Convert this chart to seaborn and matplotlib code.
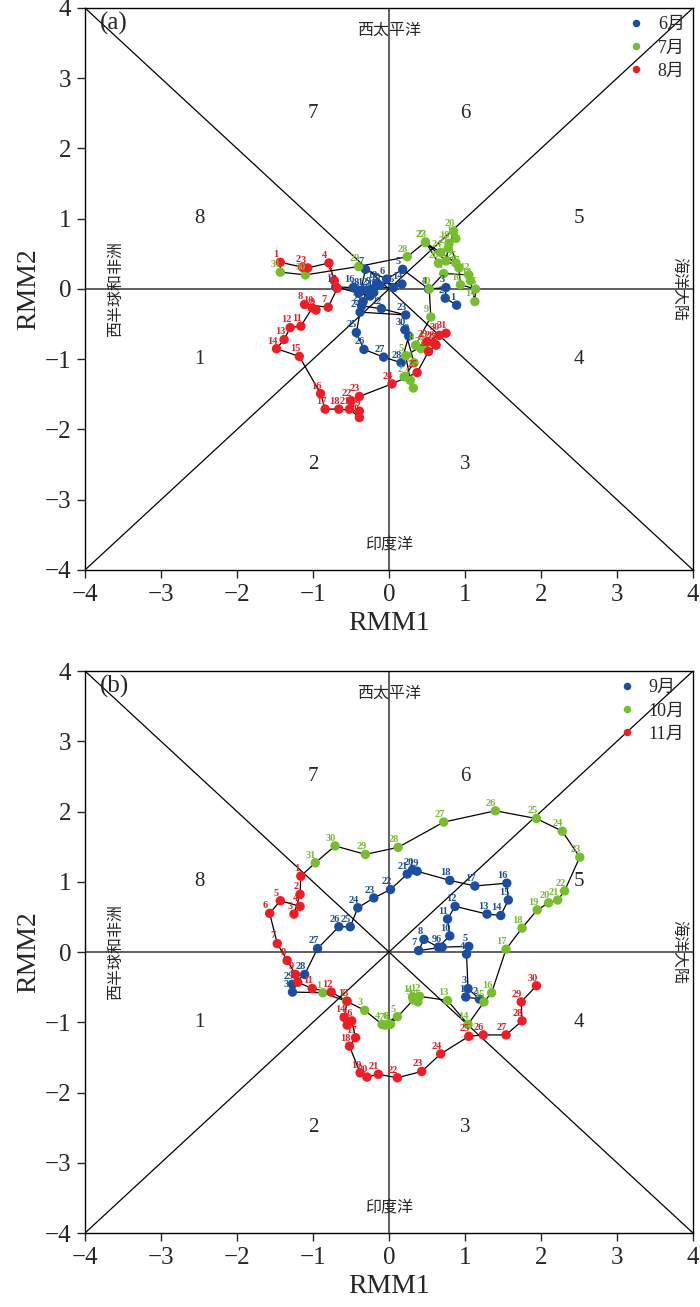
import numpy as np
import pandas as pd
import matplotlib
matplotlib.use("Agg")
import matplotlib.pyplot as plt
import seaborn as sns

# ---------------- data (RMM1, RMM2 per day) ----------------
jun_x = [0.89, 0.74, 0.75, 0.52, 0.18, -0.03, -0.31, -0.37, -0.22, -0.12, -0.34, -0.29, -0.16, 0.17, 0.06,
         -0.47, -0.70, -0.40, -0.25, -0.20, -0.36, -0.10, 0.22, -0.38, -0.43, -0.33, -0.07, 0.16, 0.26, 0.21]
jun_y = [-0.23, -0.13, 0.02, 0.00, 0.28, 0.14, 0.28, -0.02, 0.00, 0.05, -0.18, -0.02, 0.08, 0.07, 0.02,
         0.02, 0.03, -0.06, -0.10, -0.05, -0.24, -0.28, -0.37, -0.33, -0.62, -0.86, -0.97, -1.05, -0.67, -0.58]
jul_x = [0.33, 0.20, 0.32, 0.28, 0.22, 0.48, 0.42, 0.35, 0.55, 0.53, 0.72, 1.05, 1.07, 1.13, 1.14, 0.94,
         0.92, 0.79, 0.88, 0.85, 0.78, 0.75, 0.48, 0.68, 0.88, 0.65, 0.48, 0.24, -0.40, -1.10, -1.43]
jul_y = [-1.05, -1.25, -1.41, -1.30, -0.95, -0.78, -0.85, -0.80, -0.40, 0.00, 0.22, 0.20, 0.12, -0.18, 0.00, 0.06,
         0.30, 0.65, 0.72, 0.82, 0.58, 0.40, 0.66, 0.52, 0.37, 0.37, 0.67, 0.46, 0.32, 0.20, 0.24]
aug_x = [-1.43, -1.14, -1.07, -0.79, -0.72, -0.68, -0.80, -1.11, -0.96, -1.01, -1.16, -1.30, -1.38, -1.48, -1.18,
         -0.90, -0.84, -0.66, -0.39, -0.39, -0.52, -0.50, -0.39, 0.04, 0.37, 0.52, 0.62, 0.59, 0.50, 0.66, 0.75]
aug_y = [0.38, 0.31, 0.30, 0.37, 0.12, 0.01, -0.26, -0.22, -0.30, -0.27, -0.53, -0.55, -0.72, -0.85, -0.96,
         -1.49, -1.71, -1.71, -1.74, -1.83, -1.71, -1.59, -1.53, -1.35, -1.19, -0.89, -0.80, -0.77, -0.75, -0.66, -0.63]

sep_x = [1.01, 1.19, 1.04, 1.02, 1.05, 0.70, 0.39, 0.46, 0.65, 0.80, 0.77, 0.87, 1.29, 1.47, 1.57,
         1.55, 1.13, 0.80, 0.37, 0.31, 0.24, 0.02, -0.20, -0.41, -0.51, -0.66, -0.94, -1.11, -1.27, -1.27]
sep_y = [-0.64, -0.67, -0.52, -0.03, 0.08, 0.07, 0.02, 0.18, 0.07, 0.23, 0.47, 0.65, 0.54, 0.52, 0.74,
         0.98, 0.94, 1.02, 1.15, 1.17, 1.11, 0.89, 0.77, 0.63, 0.36, 0.36, 0.05, -0.32, -0.46, -0.57]
oct_x = [-0.87, -0.56, -0.32, -0.09, 0.11, 0.00, -0.05, 0.02, 0.32, 0.38, 0.31, 0.40, 0.77, 1.04, 1.25, 1.35,
         1.54, 1.75, 1.95, 2.10, 2.22, 2.31, 2.51, 2.28, 1.94, 1.40, 0.72, 0.12, -0.31, -0.71, -0.97]
oct_y = [-0.58, -0.70, -0.83, -1.03, -0.92, -1.02, -1.04, -1.03, -0.68, -0.71, -0.64, -0.63, -0.69, -1.03, -0.71, -0.58,
         0.04, 0.34, 0.60, 0.70, 0.74, 0.87, 1.35, 1.72, 1.90, 2.01, 1.85, 1.49, 1.39, 1.51, 1.27]
nov_x = [-1.16, -1.17, -1.25, -1.17, -1.43, -1.57, -1.47, -1.34, -1.23, -1.20, -1.01, -0.76, -0.55, -0.59, -0.55,
         -0.49, -0.44, -0.52, -0.38, -0.29, -0.14, 0.11, 0.43, 0.68, 1.05, 1.24, 1.54, 1.75, 1.74, 1.94]
nov_y = [1.08, 0.82, 0.54, 0.65, 0.73, 0.55, 0.12, -0.12, -0.32, -0.43, -0.52, -0.57, -0.70, -0.93, -1.04,
         -0.98, -1.22, -1.34, -1.72, -1.78, -1.74, -1.79, -1.70, -1.45, -1.20, -1.18, -1.18, -0.98, -0.71, -0.48]

months_a = ["6月", "7月", "8月"]
months_b = ["9月", "10月", "11月"]
month_colors = ["#1b4ea0", "#76bd2f", "#ee1c24"]
phase_labels = ["1", "2", "3", "4", "5", "6", "7", "8"]
ticks = [-4, -3, -2, -1, 0, 1, 2, 3, 4]

# ---------------- style ----------------
sns.set_style("white")
plt.rcParams["font.family"] = ["Liberation Serif", "Noto Sans CJK SC", "DejaVu Sans"]
plt.rcParams["axes.unicode_minus"] = True


def build(xs, ys, names):
    frames = []
    for xv, yv, nm in zip(xs, ys, names):
        frames.append(pd.DataFrame({"RMM1": xv, "RMM2": yv, "month": nm,
                                    "day": np.arange(1, len(xv) + 1)}))
    df = pd.concat(frames, ignore_index=True)
    return df


def draw(ax, df, names, tag):
    ax.set_xlim(-4, 4)
    ax.set_ylim(-4, 4)
    # phase-space guide lines
    ax.axhline(0, color="#444444", lw=1.2, zorder=1)
    ax.axvline(0, color="#444444", lw=1.2, zorder=1)
    ax.plot([-4, 4], [-4, 4], color="black", lw=0.9, zorder=1)
    ax.plot([-4, 4], [4, -4], color="black", lw=0.9, zorder=1)

    pal = dict(zip(names, month_colors))
    sns.lineplot(data=df, x="RMM1", y="RMM2", sort=False, estimator=None,
                 color="black", lw=0.9, ax=ax, zorder=2)
    sns.scatterplot(data=df, x="RMM1", y="RMM2", hue="month", hue_order=names,
                    palette=pal, s=46, linewidth=0, ax=ax, zorder=3, legend=True)
    for _, r in df.iterrows():
        ax.annotate(str(int(r["day"])), (r["RMM1"], r["RMM2"]), xytext=(-3, 5.5),
                    textcoords="offset points", ha="center", va="center",
                    fontsize=7.5, fontweight="bold", color=pal[r["month"]],
                    family=["Liberation Serif"], zorder=4)

    # phase numbers
    pos = [(-2.5, -1), (-1, -2.5), (1, -2.5), (2.5, -1), (2.5, 1), (1, 2.5), (-1, 2.5), (-2.5, 1)]
    for (px, py), lab in zip(pos, phase_labels):
        ax.text(px, py, lab, ha="center", va="center", fontsize=15)

    cjk = ["Noto Sans CJK SC"]
    ax.text(0, 3.68, "西太平洋", ha="center", va="center", fontsize=11.5, family=cjk)
    ax.text(0, -3.65, "印度洋", ha="center", va="center", fontsize=11.5, family=cjk)
    ax.text(-3.6, 0, "西半球和非洲", ha="center", va="center", rotation=90, fontsize=11.5, family=cjk)
    ax.text(3.82, 0, "海洋大陆", ha="center", va="center", rotation=270, fontsize=11.5, family=cjk)
    ax.text(-3.8, 3.78, tag, ha="left", va="center", fontsize=18)

    ax.set_xticks(ticks)
    ax.set_yticks(ticks)
    ax.tick_params(axis="both", which="both", direction="out", length=6, width=1,
                   labelsize=18, bottom=True, left=True, top=False, right=False, pad=4)
    ax.set_xlabel("RMM1", fontsize=20, labelpad=4)
    ax.set_ylabel("RMM2", fontsize=20, labelpad=2)
    for sp in ax.spines.values():
        sp.set_color("black")
        sp.set_linewidth(1.0)

    leg = ax.legend(loc="upper right", frameon=False, handletextpad=0.2,
                    borderaxespad=0.05, labelspacing=0.35, markerscale=0.8,
                    prop={"family": ["Liberation Serif", "Noto Sans CJK SC"], "size": 13})
    leg.set_title(None)


fig = plt.figure(figsize=(7.0, 13.07), dpi=100)
ax_a = fig.add_axes([0.1214, 0.5639, 0.8686, 0.430])
ax_b = fig.add_axes([0.1214, 0.0566, 0.8686, 0.430])

df_a = build([jun_x, jul_x, aug_x], [jun_y, jul_y, aug_y], months_a)
df_b = build([sep_x, oct_x, nov_x], [sep_y, oct_y, nov_y], months_b)
draw(ax_a, df_a, months_a, "(a)")
draw(ax_b, df_b, months_b, "(b)")

fig.savefig("out.png", dpi=100)
